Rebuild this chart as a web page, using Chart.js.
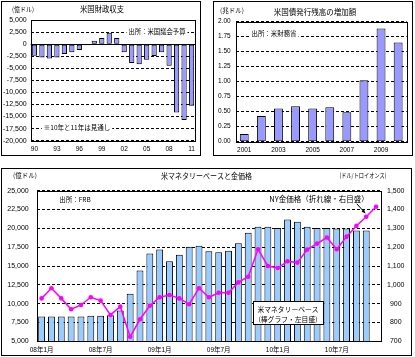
<!DOCTYPE html>
<html><head><meta charset="utf-8">
<script src="https://cdn.jsdelivr.net/npm/chart.js@4"></script>
<style>
html,body{margin:0;padding:0;background:#fff;width:415px;height:357px;overflow:hidden;}
.frame{position:absolute;box-sizing:border-box;border:1px solid #000;background:#fff;}
.frame canvas{position:absolute;left:0;top:0;}
</style></head><body>
<div class="frame" style="left:1px;top:1px;width:200px;height:155px"><canvas id="c1" width="198" height="153" style="width:198px;height:153px"></canvas></div>
<div class="frame" style="left:213px;top:1px;width:200px;height:155px"><canvas id="c2" width="198" height="153" style="width:198px;height:153px"></canvas></div>
<div class="frame" style="left:1px;top:168px;width:411px;height:188px"><canvas id="c3" width="409" height="186" style="width:409px;height:186px"></canvas></div>
<script>
// ---- data ----
const fiscalYears = ['90','91','92','93','94','95','96','97','98','99','00','01','02','03','04','05','06','07','08','09','10','11'];
const fiscalBalance = [-2400,-2750,-2950,-2750,-2050,-1700,-1200,-220,690,1250,2380,1250,-1700,-3900,-4150,-3250,-2450,-1700,-4500,-14150,-15700,-12750];

const bondYears = ['2001','2002','2003','2004','2005','2006','2007','2008','2009','2010'];
const bondIncrease = [0.13,0.43,0.555,0.59,0.555,0.575,0.49,1.025,1.885,1.655];

const months = ['08年1月','08年2月','08年3月','08年4月','08年5月','08年6月','08年7月','08年8月','08年9月','08年10月','08年11月','08年12月',
  '09年1月','09年2月','09年3月','09年4月','09年5月','09年6月','09年7月','09年8月','09年9月','09年10月','09年11月','09年12月',
  '10年1月','10年2月','10年3月','10年4月','10年5月','10年6月','10年7月','10年8月','10年9月','10年10月','10年11月'];
const monetaryBase = [8300,8300,8300,8300,8300,8400,8400,8450,9100,11300,14400,16650,17180,15620,16500,17560,17700,16950,16820,17030,18020,19430,20220,
  20220,20050,21180,20880,20200,20050,20030,19980,19980,19720,19720,null];
const goldPrice = [928,982,928,870,893,934,916,840,884,724,817,889,934,946,928,897,982,934,958,958,1013,1043,1189,
  1100,1089,1125,1118,1187,1219,1251,1189,1256,1313,1362,1415];

// ---- styling ----
const NUM_FONT = '"Liberation Sans", "Noto Sans CJK JP", sans-serif';
const JP_FONT = '"Noto Sans CJK JP", sans-serif';
Chart.defaults.font.family = NUM_FONT;
Chart.defaults.color = '#000';

const deco = {
  id: 'deco',
  beforeDatasetsDraw(chart) {
    const o = chart.options.plugins.deco || {};
    const ctx = chart.ctx, a = chart.chartArea;
    if (o.zeroLine) {
      const y = Math.round(chart.scales.y.getPixelForValue(0)) + 0.5;
      ctx.save(); ctx.strokeStyle = '#000'; ctx.lineWidth = 1;
      ctx.beginPath(); ctx.moveTo(a.left, y); ctx.lineTo(a.right, y); ctx.stroke(); ctx.restore();
    }
  },
  afterDatasetsDraw(chart) {
    const o = chart.options.plugins.deco || {};
    const ctx = chart.ctx, a = chart.chartArea;
    ctx.save();
    // chart area border
    ctx.strokeStyle = '#000'; ctx.lineWidth = 1; ctx.setLineDash([]);
    const L = Math.round(a.left) + 0.5, T = Math.round(a.top) + 0.5;
    ctx.strokeRect(L, T, Math.round(a.right) - Math.round(a.left), Math.round(a.bottom) - Math.round(a.top));
    if (o.box) {
      const b = o.box;
      ctx.fillStyle = '#fff';
      ctx.fillRect(b.x0, b.y0, b.x1 - b.x0, b.y1 - b.y0);
      ctx.strokeRect(b.x0 + 0.5, b.y0 + 0.5, b.x1 - b.x0, b.y1 - b.y0);
    }
    if (o.arrow) {
      const p = chart.getDatasetMeta(o.arrow.ds).data[o.arrow.idx];
      const ex = p.x - 1, ey = p.y - 3.5, sx = ex - 9, sy = ey - 10;
      const ang = Math.atan2(ey - sy, ex - sx);
      ctx.strokeStyle = '#000'; ctx.fillStyle = '#000';
      ctx.beginPath(); ctx.moveTo(sx, sy); ctx.lineTo(ex, ey); ctx.stroke();
      ctx.beginPath(); ctx.moveTo(ex, ey);
      ctx.lineTo(ex - 4 * Math.cos(ang - 0.45), ey - 4 * Math.sin(ang - 0.45));
      ctx.lineTo(ex - 4 * Math.cos(ang + 0.45), ey - 4 * Math.sin(ang + 0.45));
      ctx.closePath(); ctx.fill();
    }
    (o.texts || []).forEach(t => {
      ctx.font = t.size + 'px ' + JP_FONT;
      ctx.textAlign = 'center'; ctx.textBaseline = 'middle';
      const w = Math.min(ctx.measureText(t.t).width, t.w);
      if (t.bg) {
        ctx.fillStyle = '#fff';
        ctx.fillRect(t.x - w / 2 - 2, t.y - t.size / 2 - 1, w + 4, t.size + 2);
      }
      ctx.fillStyle = '#000';
      ctx.fillText(t.t, t.x, t.y, t.w);
    });
    ctx.restore();
  }
};

const common = {
  responsive: false, animation: false, devicePixelRatio: 1,
};

// ---- chart 1: fiscal balance ----
new Chart(document.getElementById('c1'), {
  type: 'bar',
  data: { labels: fiscalYears, datasets: [{ data: fiscalBalance, backgroundColor: '#9999ff', borderColor: '#000', borderWidth: 1, borderSkipped: false, barPercentage: 0.7, categoryPercentage: 1 }] },
  options: Object.assign({}, common, {
    layout: { padding: { left: 0, right: 3.3, top: 18, bottom: 0 } },
    plugins: { legend: { display: false }, tooltip: { enabled: false },
      deco: { zeroLine: true, texts: [
        { t: '(億ドル)', x: 21, y: 7.3, size: 6.5, w: 22 },
        { t: '米国財政収支', x: 100, y: 7.3, size: 7.5, w: 44 },
        { t: '出所：米国議会予算', x: 155, y: 30, size: 6.5, w: 57, bg: true },
        { t: '※10年と11年は見通し', x: 75, y: 125.5, size: 6.5, w: 67, bg: true }
      ] } },
    scales: {
      x: { grid: { display: false, drawTicks: false }, border: { display: false },
        ticks: { autoSkip: false, maxRotation: 0, padding: 5, font: { size: 6.5 }, callback: (v, i) => i % 3 === 0 ? fiscalYears[i] : '' },
        afterFit: s => { s.height = 14.3; } },
      y: { min: -20000, max: 5000, ticks: { stepSize: 2500, padding: 4, font: { size: 7 } },
        grid: { color: '#000', lineWidth: 1, drawTicks: false }, border: { display: false, dash: [3, 2] },
        afterFit: s => { s.width = 28.7; } }
    }
  }),
  plugins: [deco]
});

// ---- chart 2: treasury issuance increase ----
new Chart(document.getElementById('c2'), {
  type: 'bar',
  data: { labels: bondYears, datasets: [{ data: bondIncrease, backgroundColor: '#9999ff', borderColor: '#000', borderWidth: 1, borderSkipped: false, barPercentage: 0.52, categoryPercentage: 1 }] },
  options: Object.assign({}, common, {
    layout: { padding: { left: 0, right: 5.3, top: 19.7, bottom: 0 } },
    plugins: { legend: { display: false }, tooltip: { enabled: false },
      deco: { texts: [
        { t: '(兆ドル)', x: 18, y: 8.7, size: 6.5, w: 24 },
        { t: '米国債発行残高の増加額', x: 101, y: 9.7, size: 7.5, w: 84 },
        { t: '出所：米財務省', x: 60, y: 31.3, size: 6.5, w: 45, bg: true }
      ] } },
    scales: {
      x: { grid: { display: false, drawTicks: false }, border: { display: false },
        ticks: { autoSkip: false, maxRotation: 0, padding: 5, font: { size: 6.5 }, callback: (v, i) => i % 2 === 0 ? bondYears[i] : '' },
        afterFit: s => { s.height = 13.3; } },
      y: { min: 0, max: 2, ticks: { stepSize: 0.25, padding: 5, font: { size: 6.5 }, callback: v => v.toFixed(2) },
        grid: { color: '#000', lineWidth: 1, drawTicks: false }, border: { display: false, dash: [3, 2] },
        afterFit: s => { s.width = 21.7; } }
    }
  }),
  plugins: [deco]
});

// ---- chart 3: monetary base & gold ----
new Chart(document.getElementById('c3'), {
  type: 'bar',
  data: { labels: months, datasets: [
    { type: 'bar', data: monetaryBase, yAxisID: 'y', order: 2, backgroundColor: '#99ccff', borderColor: '#000', borderWidth: 1, borderSkipped: false, barPercentage: 0.7, categoryPercentage: 1 },
    { type: 'line', data: goldPrice, yAxisID: 'y2', order: 1, borderColor: '#ff00ff', backgroundColor: '#ff00ff', borderWidth: 1.5, pointRadius: 2.3, pointBorderWidth: 0, tension: 0 }
  ] },
  options: Object.assign({}, common, {
    layout: { padding: { left: 0, right: 0, top: 21.7, bottom: 0 } },
    plugins: { legend: { display: false }, tooltip: { enabled: false },
      deco: {
        box: { x0: 251, y0: 132, x1: 321, y1: 155 },
        arrow: { ds: 1, idx: 33 },
        texts: [
          { t: '(億ドル)', x: 23, y: 7, size: 6.5, w: 27 },
          { t: '米マネタリーベースと金価格', x: 204.5, y: 7.5, size: 7.5, w: 91 },
          { t: '(ドル/トロイオンス)', x: 361, y: 7, size: 6.5, w: 47 },
          { t: '出所：FRB', x: 73, y: 30.3, size: 6.5, w: 33 },
          { t: 'NY金価格（折れ線・右目盛）', x: 317, y: 30, size: 7.5, w: 102, bg: true },
          { t: '米マネタリーベース', x: 286, y: 140.3, size: 6.8, w: 61 },
          { t: '(棒グラフ・左目盛)', x: 286, y: 150, size: 6.8, w: 60 }
        ] } },
    scales: {
      x: { grid: { display: false, drawTicks: false }, border: { display: false },
        ticks: { autoSkip: false, maxRotation: 0, padding: 5, font: { size: 6.5 }, callback: (v, i) => i % 6 === 0 ? months[i] : '' },
        afterFit: s => { s.height = 13.7; } },
      y: { position: 'left', min: 5000, max: 25000, ticks: { stepSize: 2500, padding: 8, font: { size: 7 } },
        grid: { color: '#000', lineWidth: 1, drawTicks: false }, border: { display: false, dash: [3, 2] },
        afterFit: s => { s.width = 34.7; } },
      y2: { position: 'right', min: 700, max: 1500, ticks: { stepSize: 100, padding: 6, crossAlign: 'center', font: { size: 7 } },
        grid: { drawOnChartArea: false, drawTicks: false }, border: { display: false },
        afterFit: s => { s.width = 30; } }
    }
  }),
  plugins: [deco]
});
</script>
</body></html>
